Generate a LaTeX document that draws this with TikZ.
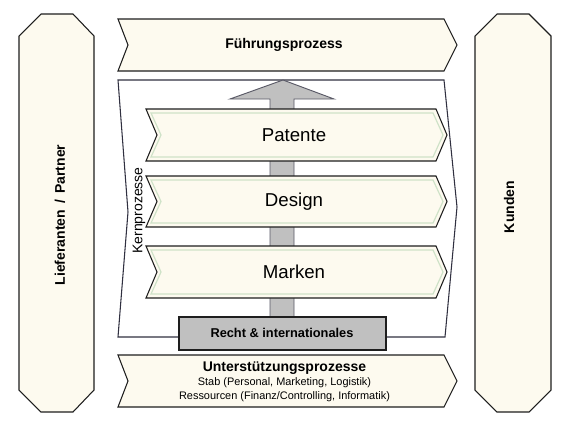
\documentclass[tikz,border=0pt]{standalone}
\usepackage{fontspec}
\setmainfont{Liberation Sans}
\definecolor{cream}{HTML}{FDFAEF}
\definecolor{outl}{HTML}{1E1E1E}
\definecolor{grbox}{HTML}{C0C0C0}
\definecolor{grn}{HTML}{CFE2C8}
\definecolor{frm}{HTML}{303040}
\begin{document}
\begin{tikzpicture}[x=0.75pt,y=-0.75pt,
  shapeline/.style={draw=outl,line width=0.8pt,fill=cream},
  chevline/.style={draw=outl,line width=0.8pt,fill=cream},
  innergrn/.style={draw=grn,line width=0.9pt},
  boldlbl/.style={font=\fontsize{10.5}{12}\selectfont\bfseries,inner sep=0pt},
  biglbl/.style={font=\fontsize{14}{16}\selectfont,inner sep=0pt},
  smalllbl/.style={font=\fontsize{8.2}{10}\selectfont,inner sep=0pt}]
\useasboundingbox (0,0) rectangle (564,426);
\fill[white] (0,0) rectangle (564,426);

% side columns
\draw[shapeline] (19,36) -- (41,14) -- (73,14) -- (94,36) -- (94,390) -- (73,412) -- (41,412) -- (19,390) -- cycle;
\draw[shapeline] (475,36) -- (497,14) -- (529,14) -- (551,36) -- (551,390) -- (529,412) -- (497,412) -- (475,390) -- cycle;
\node[boldlbl,rotate=90] (lief) at (60,215) {Lieferanten~\,/\,~Partner};
\node[boldlbl,rotate=90] (kund) at (509,207) {Kunden};

% Fuehrungsprozess
\draw[chevline] (118,19) -- (444,19) -- (457,45) -- (444,71) -- (118,71) -- (128,45) -- cycle;
\node[boldlbl] (fuehr) at (284,45) {Führungsprozess};

% Unterstuetzungsprozesse
\draw[chevline] (118,355) -- (444,355) -- (457,381) -- (444,407) -- (118,407) -- (128,381) -- cycle;
\node[boldlbl] (unter) at (284.5,368) {Unterstützungsprozesse};
\node[smalllbl] (stab) at (284.5,383) {Stab (Personal, Marketing, Logistik)};
\node[smalllbl] (ress) at (284.5,397) {Ressourcen (Finanz/Controlling, Informatik)};

% Kernprozesse frame
\draw[draw=frm,line width=0.8pt,fill=white] (118,80) -- (444,80) -- (457,207) -- (445,337) -- (118,337) -- (128,212) -- cycle;
\node[font=\fontsize{10.5}{12}\selectfont,inner sep=0pt,rotate=90] (kern) at (139,210.5) {Kernprozesse};

% vertical arrow
\draw[draw=frm!80,line width=0.7pt,fill=grbox] (270,317) -- (270,99) -- (230,99) -- (283,80) -- (334,99) -- (294,99) -- (294,317);

% process chevrons
\foreach \t/\b/\m/\txt/\nm in {109/161/135/Patente/pat,176/227/201.5/Design/des,246/298/272/Marken/mar}{
  \draw[chevline] (146,\t) -- (436,\t) -- (447,\m) -- (436,\b) -- (146,\b) -- (157,\m) -- cycle;
  \draw[innergrn] (151,\t+4) -- (433,\t+4) -- (443,\m) -- (433,\b-4) -- (151,\b-4) -- (161,\m) -- cycle;
  \node[biglbl] (\nm) at (294,\m) {\txt};
}

% Recht box
\draw[draw=outl,line width=0.8pt,fill=grbox] (179,317) rectangle (386,350);
\node[font=\fontsize{9.6}{11}\selectfont\bfseries,inner sep=0pt] (recht) at (282,333) {Recht \& internationales};
\end{tikzpicture}
\end{document}
